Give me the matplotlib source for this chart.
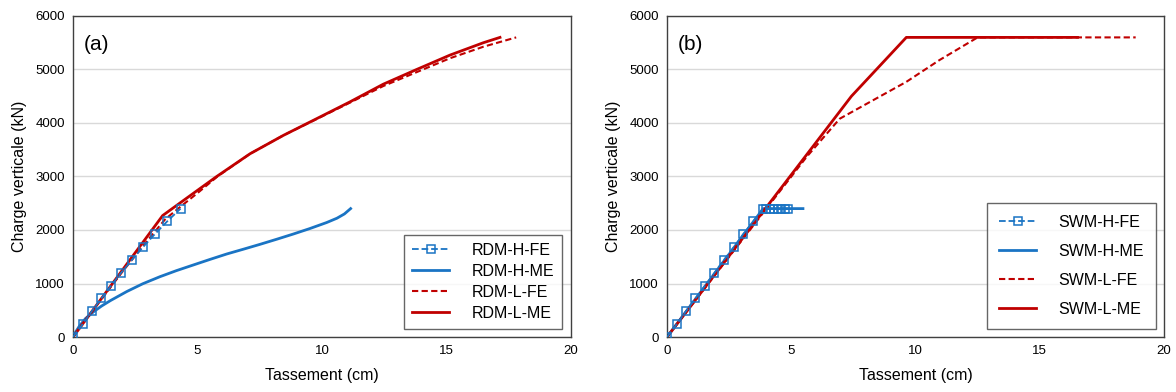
import matplotlib.pyplot as plt

plt.rcParams['font.family'] = ['Liberation Sans', 'DejaVu Sans']

# Données - panneau (a)
x_rdm_h_fe = [0, 0.39, 0.75, 1.14, 1.53, 1.93, 2.36, 2.81, 3.28, 3.78, 4.32]
y_rdm_h_fe = [0, 240, 480, 720, 960, 1200, 1440, 1680, 1920, 2160, 2400]

x_rdm_h_me = [0, 0.1, 0.25, 0.5, 0.82, 1.15, 1.5, 2.16, 2.8, 3.49, 4.15, 4.83, 5.5, 6.17,
              6.85, 7.51, 8.2, 8.85, 9.5, 10.19, 10.6, 10.9, 11.15]
y_rdm_h_me = [0, 90, 200, 345, 470, 580, 680, 850, 995, 1127, 1240, 1346, 1450, 1551,
              1642, 1732, 1830, 1925, 2025, 2140, 2220, 2300, 2400]

x_rdm_l_fe = [0, 1.0, 2.0, 3.0, 3.7, 4.3, 5.0, 5.8, 7.11, 8.45, 9.79, 11.12, 12.46, 13.8, 15.14, 16.48, 17.8]
y_rdm_l_fe = [0, 620, 1230, 1810, 2200, 2430, 2690, 3000, 3425, 3769, 4075, 4380, 4690, 4950, 5210, 5425, 5600]

x_rdm_l_me = [0, 3.6, 4.4, 5.77, 7.11, 8.45, 9.79, 11.12, 12.46, 13.8, 15.14, 16.48, 17.15]
y_rdm_l_me = [0, 2270, 2540, 3000, 3425, 3769, 4082, 4394, 4725, 5000, 5269, 5500, 5600]

# Données - panneau (b)
x_swm_h_fe = [0, 0.39, 0.76, 1.14, 1.53, 1.91, 2.29, 2.69, 3.06, 3.47, 3.87, 4.0, 4.15, 4.3, 4.45, 4.6, 4.75, 4.87]
y_swm_h_fe = [0, 240, 480, 720, 960, 1200, 1440, 1680, 1920, 2160, 2400, 2400, 2400, 2400, 2400, 2400, 2400, 2400]

x_swm_h_me = [0, 3.87, 5.47]
y_swm_h_me = [0, 2400, 2400]

x_swm_l_fe = [0, 4.5, 5.61, 6.95, 8.29, 9.63, 10.96, 12.5, 18.86]
y_swm_l_fe = [0, 2700, 3362, 4080, 4425, 4769, 5175, 5600, 5600]

x_swm_l_me = [0, 7.42, 9.63, 16.52]
y_swm_l_me = [0, 4500, 5600, 5600]

bleu = '#1a74c4'
rouge = '#c00000'

fig = plt.figure(figsize=(11.76, 3.92), dpi=100)
ax1 = fig.add_axes([0.0621, 0.1403, 0.4234, 0.8189])
ax2 = fig.add_axes([0.5672, 0.1403, 0.4226, 0.8189])


def style_axes(ax, lettre):
    ax.set_xlim(0, 20)
    ax.set_ylim(0, 6000)
    ax.set_xticks([0, 5, 10, 15, 20])
    ax.set_yticks([0, 1000, 2000, 3000, 4000, 5000, 6000])
    ax.tick_params(length=0, labelsize=9.5, pad=6)
    ax.grid(axis='y', color='#d9d9d9', linewidth=1)
    ax.set_axisbelow(True)
    for s in ax.spines.values():
        s.set_color('#404040')
        s.set_linewidth(1)
    ax.set_xlabel('Tassement (cm)', fontsize=11.5, labelpad=8)
    ax.set_ylabel('Charge verticale (kN)', fontsize=11.5, labelpad=6)
    ax.text(0.022, 0.91, lettre, transform=ax.transAxes, fontsize=15, va='center')


# Panneau (a)
ax1.plot(x_rdm_h_fe, y_rdm_h_fe, color=bleu, ls='--', lw=1.3, marker='s', ms=5.5,
         mfc='none', mec=bleu, mew=1.1, label='RDM-H-FE', zorder=3)
ax1.plot(x_rdm_h_me, y_rdm_h_me, color=bleu, lw=2, label='RDM-H-ME')
ax1.plot(x_rdm_l_fe, y_rdm_l_fe, color=rouge, ls=(0, (3, 1.6)), lw=1.5, label='RDM-L-FE')
ax1.plot(x_rdm_l_me, y_rdm_l_me, color=rouge, lw=2, label='RDM-L-ME')
style_axes(ax1, '(a)')
leg1 = ax1.legend(loc='lower right', bbox_to_anchor=(0.982, 0.025), borderaxespad=0,
                  fontsize=11.5, frameon=True, fancybox=False, edgecolor='#404040',
                  handlelength=2.3, labelspacing=0.38, borderpad=0.5, handletextpad=1.4)
leg1.get_frame().set_linewidth(1)

# Panneau (b)
ax2.plot(x_swm_h_fe, y_swm_h_fe, color=bleu, ls='--', lw=1.3, marker='s', ms=5.5,
         mfc='none', mec=bleu, mew=1.1, label='SWM-H-FE', zorder=3)
ax2.plot(x_swm_h_me, y_swm_h_me, color=bleu, lw=2, label='SWM-H-ME')
ax2.plot(x_swm_l_fe, y_swm_l_fe, color=rouge, ls=(0, (3, 1.6)), lw=1.5, label='SWM-L-FE')
ax2.plot(x_swm_l_me, y_swm_l_me, color=rouge, lw=2, label='SWM-L-ME')
style_axes(ax2, '(b)')
leg2 = ax2.legend(loc='lower right', bbox_to_anchor=(0.984, 0.025), borderaxespad=0,
                  fontsize=11.5, frameon=True, fancybox=False, edgecolor='#404040',
                  handlelength=2.3, labelspacing=0.88, borderpad=0.75, handletextpad=1.4)
leg2.get_frame().set_linewidth(1)

plt.savefig('out.png', dpi=100)
